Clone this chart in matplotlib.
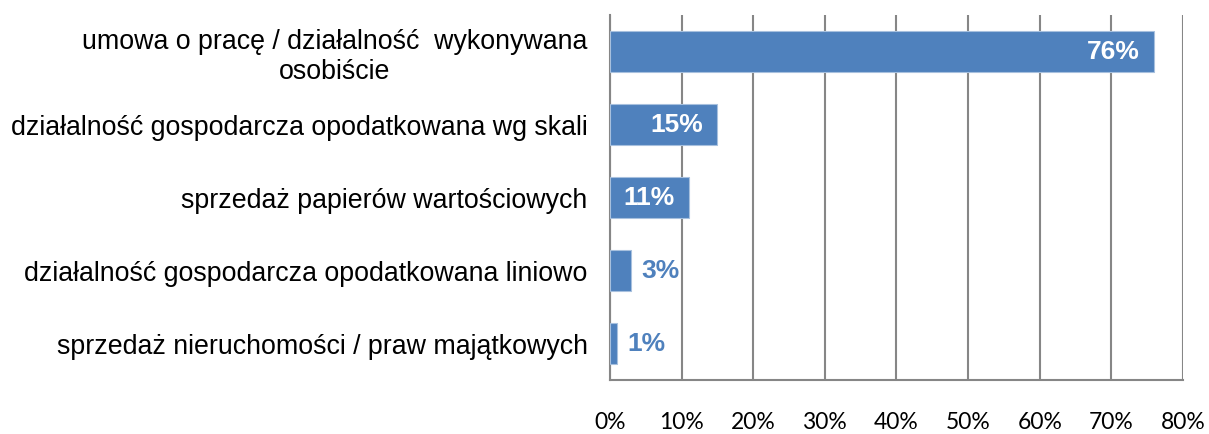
import matplotlib
matplotlib.use("Agg")
import matplotlib.pyplot as plt
from matplotlib.ticker import FuncFormatter

categories = [
    "umowa o pracę / działalność  wykonywana\nosobiście",
    "działalność gospodarcza opodatkowana wg skali",
    "sprzedaż papierów wartościowych",
    "działalność gospodarcza opodatkowana liniowo",
    "sprzedaż nieruchomości / praw majątkowych",
]
values = [76, 15, 11, 3, 1]
xticks = [0, 10, 20, 30, 40, 50, 60, 70, 80]

bar_color = "#4F81BD"
grid_color = "#868686"

fig = plt.figure(figsize=(12.09, 4.34), dpi=100)
ax = fig.add_axes([0.5045, 0.1244, 0.4740, 0.8410])

ypos = list(range(len(categories)))[::-1]
ax.barh(ypos, values, height=0.56, color=bar_color, edgecolor="#A7C0DE", linewidth=0.8, zorder=3)

for y, v in zip(ypos, values):
    if v >= 10:
        ax.text(v - 2.0, y, f"{v}%", ha="right", va="center", color="white",
                fontsize=19, fontweight="bold", family="Liberation Sans", zorder=4)
    else:
        ax.text(v + 1.4, y, f"{v}%", ha="left", va="center", color=bar_color,
                fontsize=19, fontweight="bold", family="Liberation Sans", zorder=4)

ax.set_xlim(0, 80)
ax.set_ylim(-0.5, len(categories) - 0.5)
ax.set_xticks(xticks)
ax.xaxis.set_major_formatter(FuncFormatter(lambda x, p: f"{int(x)}%"))
ax.set_yticks(ypos)
ax.set_yticklabels(categories, family="Liberation Sans", fontsize=19.3, ha="right",
                   multialignment="center", linespacing=1.2)
for lbl in ax.get_xticklabels():
    lbl.set_family("Lato")
    lbl.set_fontsize(16.5)

ax.tick_params(axis="x", length=0, pad=23)
ax.tick_params(axis="y", length=0, pad=16)
ax.grid(axis="x", color=grid_color, linewidth=1.5, zorder=0)
ax.set_axisbelow(True)
for s in ["top", "right"]:
    ax.spines[s].set_visible(False)
for s in ["left", "bottom"]:
    ax.spines[s].set_color(grid_color)
    ax.spines[s].set_linewidth(1.5)

fig.savefig("out.png", dpi=100)
